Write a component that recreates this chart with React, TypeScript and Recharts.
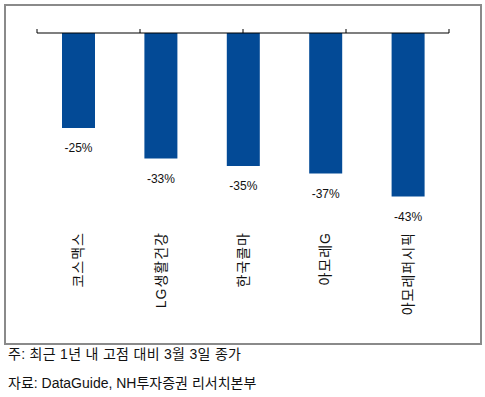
import { BarChart, Bar, XAxis, YAxis, LabelList } from 'recharts';

const companies = ['코스맥스', 'LG생활건강', '한국콜마', '아모레G', '아모레퍼시픽'];
const declines = [-25, -33, -35, -37, -43];
const edgeTicks = [0, 1, 2, 3, 4, 5];
const notes = ['주: 최근 1년 내 고점 대비 3월 3일 종가', '자료: DataGuide, NH투자증권 리서치본부'];

const data = companies.map((name, i) => ({ name, value: declines[i] }));

const FONT = '"Liberation Sans", Arial, "Noto Sans CJK KR", sans-serif';
const BLUE = '#034a96';

function NameTick({ x, y, payload }: any) {
  return (
    <text
      x={x}
      y={y}
      transform={`rotate(-90, ${x}, ${y})`}
      textAnchor="end"
      dy="0.36em"
      fontSize={14}
      letterSpacing={1}
      fill="#111"
      fontFamily={FONT}
    >
      {payload.value}
    </text>
  );
}

function ValueLabel({ x, y, width, height, value }: any) {
  const bottom = Math.max(y, y + height);
  return (
    <text
      x={x + width / 2}
      y={bottom + 20}
      textAnchor="middle"
      dy="0.36em"
      fontSize={12}
      fill="#111"
      fontFamily={FONT}
    >
      {`${value}%`}
    </text>
  );
}

export default function App() {
  return (
    <div style={{ position: 'absolute', left: 0, top: 0, width: 485, height: 397, background: '#fff', fontFamily: FONT }}>
      <div
        style={{
          position: 'absolute',
          left: 4,
          top: 4,
          width: 474,
          height: 337,
          border: '2px solid #8a8a8a',
        }}
      />
      <div style={{ position: 'absolute', left: 0, top: 0 }}>
        <BarChart width={485} height={397} data={data} margin={{ top: 32, right: 36, bottom: 154, left: 37 }}>
          <YAxis hide domain={[-50, 0]} />
          <XAxis
            xAxisId="edges"
            type="number"
            orientation="top"
            domain={[0, 5]}
            ticks={edgeTicks}
            height={1}
            tickFormatter={() => ''}
            tickSize={4}
            stroke="#000"
            axisLine={{ stroke: '#000', strokeWidth: 1.2 }}
            tickLine={{ stroke: '#000' }}
          />
          <XAxis
            dataKey="name"
            orientation="bottom"
            axisLine={false}
            tickLine={false}
            tickSize={0}
            tickMargin={9}
            height={20}
            interval={0}
            tick={<NameTick />}
          />
          <Bar dataKey="value" fill={BLUE} barSize={33} isAnimationActive={false}>
            <LabelList dataKey="value" content={<ValueLabel />} />
          </Bar>
        </BarChart>
      </div>
      {notes.map((t, i) => (
        <div
          key={t}
          style={{
            position: 'absolute',
            left: 8,
            top: 345 + i * 29,
            fontSize: 14,
            lineHeight: '18px',
            letterSpacing: i === 0 ? 0.3 : 0,
            color: '#111',
            fontFamily: FONT,
            whiteSpace: 'nowrap',
          }}
        >
          {t}
        </div>
      ))}
    </div>
  );
}
